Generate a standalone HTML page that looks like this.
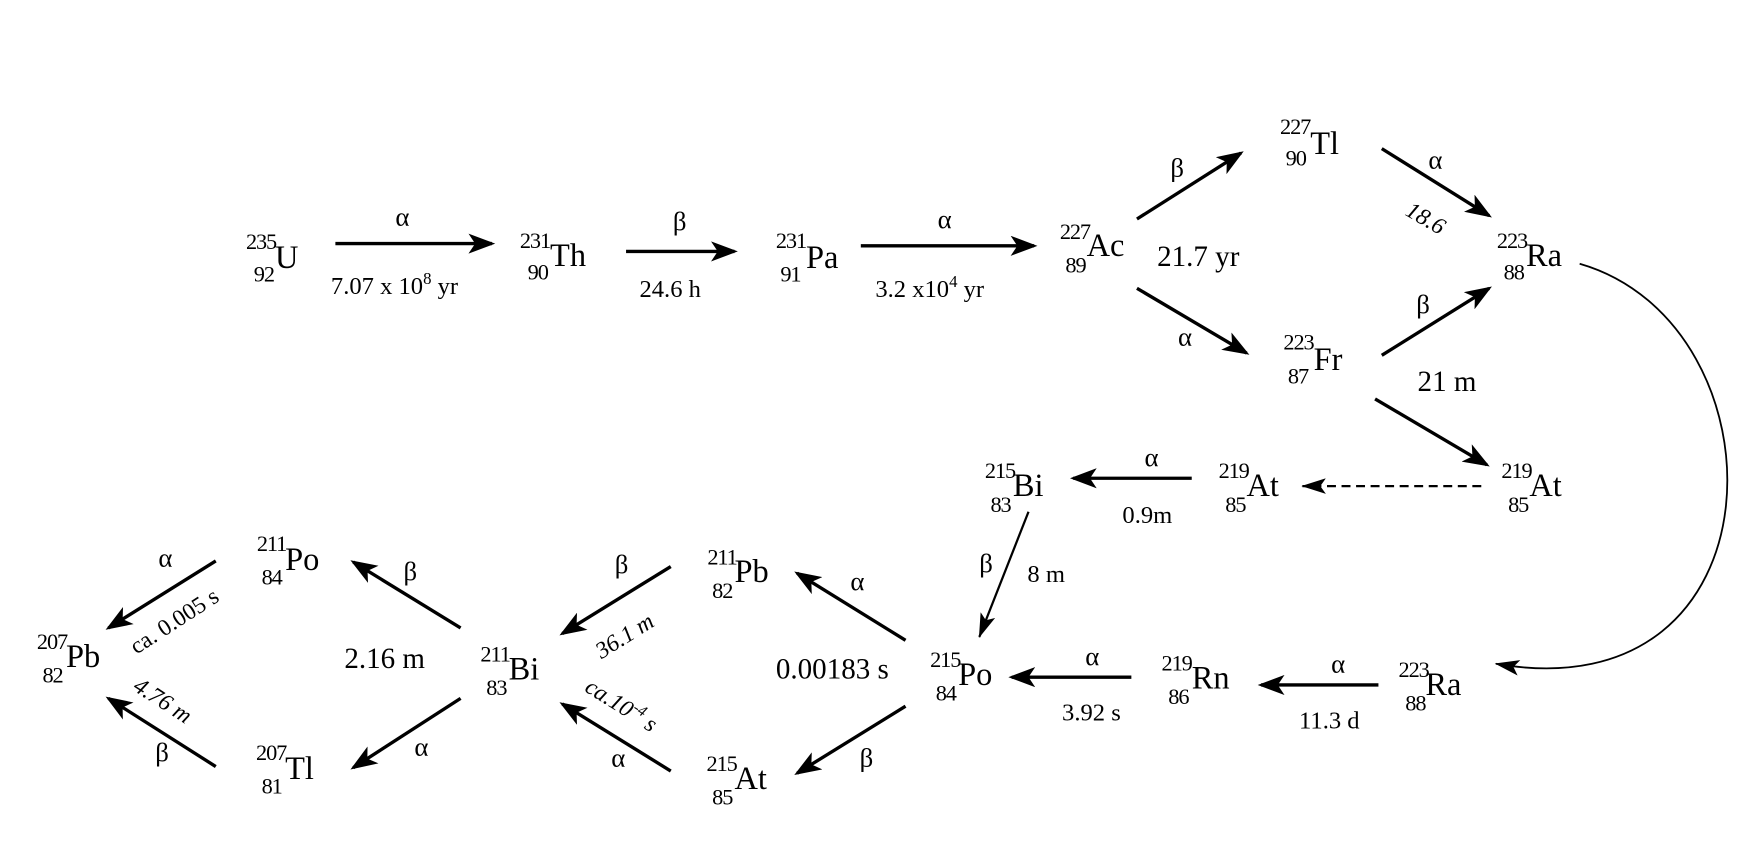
<!DOCTYPE html>
<html><head><meta charset="utf-8"><style>
html,body{margin:0;padding:0;background:#fff;}
svg{display:block;}
text{font-family:"Liberation Serif",serif;fill:#000;}
.s{font-size:29px;}
.m{font-size:20px;letter-spacing:-1px;}
.l{font-size:22px;}
.g{font-size:24px;}
.i{font-size:21px;font-style:italic;}
.n text.m{text-anchor:end;}
</style></head><body>
<svg width="1744" height="866" viewBox="0 0 1560 775" preserveAspectRatio="none" xmlns="http://www.w3.org/2000/svg">
<defs>
<marker id="a" markerWidth="8" markerHeight="6" refX="7" refY="3" orient="auto" markerUnits="strokeWidth">
<path d="M0,0 L8,3 L0,6 L2,3 z" fill="#000"/>
</marker>
<marker id="b" markerWidth="22" markerHeight="14" refX="21" refY="7" orient="auto" markerUnits="userSpaceOnUse">
<path d="M0,0 L22,7 L0,14 L5,7 z" fill="#000"/>
</marker>
</defs>
<g stroke="#000" stroke-width="3" fill="none" marker-end="url(#a)">
<line x1="300" y1="218" x2="440" y2="218"/>
<line x1="560" y1="225" x2="657" y2="225"/>
<line x1="770" y1="220" x2="925" y2="220"/>
<line x1="1017" y1="196" x2="1110" y2="137"/>
<line x1="1017" y1="258" x2="1115" y2="316"/>
<line x1="1236" y1="133" x2="1332" y2="193"/>
<line x1="1236" y1="318" x2="1332" y2="258"/>
<line x1="1230" y1="357" x2="1330" y2="416"/>
<line x1="1066" y1="428" x2="960" y2="428"/>
<line x1="1233" y1="613" x2="1128" y2="613"/>
<line x1="1012" y1="606" x2="905" y2="606"/>
<line x1="810" y1="573" x2="713" y2="513"/>
<line x1="810" y1="632" x2="713" y2="692"/>
<line x1="600" y1="507" x2="503" y2="567"/>
<line x1="600" y1="690" x2="503" y2="630"/>
<line x1="412" y1="562" x2="316" y2="503"/>
<line x1="412" y1="625" x2="316" y2="687"/>
<line x1="193" y1="502" x2="97" y2="562"/>
<line x1="193" y1="686" x2="97" y2="625"/>
</g>
<line x1="920" y1="458" x2="876" y2="570" stroke="#000" stroke-width="2" marker-end="url(#b)"/>
<line x1="1325" y1="435" x2="1165" y2="435" stroke="#000" stroke-width="2" stroke-dasharray="8,5" marker-end="url(#b)"/>
<path d="M1413,236 C1600,290 1600,640 1338,594" stroke="#000" stroke-width="1.6" fill="none" marker-end="url(#b)"/>

<g class="n">
<text class="m" x="247" y="223">235</text><text class="m" x="245" y="252">92</text><text class="s" x="246" y="240">U</text>
<text class="m" x="492" y="222">231</text><text class="m" x="490" y="250">90</text><text class="s" x="492" y="238">Th</text>
<text class="m" x="721" y="222">231</text><text class="m" x="716" y="252">91</text><text class="s" x="721" y="240">Pa</text>
<text class="m" x="975" y="214">227</text><text class="m" x="971" y="244">89</text><text class="s" x="972" y="229">Ac</text>
<text class="m" x="1172" y="120">227</text><text class="m" x="1168" y="148">90</text><text class="s" x="1172" y="138">Tl</text>
<text class="m" x="1366" y="222">223</text><text class="m" x="1363" y="250">88</text><text class="s" x="1365" y="238">Ra</text>
<text class="m" x="1175" y="313">223</text><text class="m" x="1170" y="343">87</text><text class="s" x="1175" y="331">Fr</text>
<text class="m" x="1370" y="428">219</text><text class="m" x="1367" y="458">85</text><text class="s" x="1368" y="444">At</text>
<text class="m" x="1117" y="428">219</text><text class="m" x="1114" y="458">85</text><text class="s" x="1115" y="444">At</text>
<text class="m" x="908" y="428">215</text><text class="m" x="904" y="458">83</text><text class="s" x="906" y="444">Bi</text>
<text class="m" x="859" y="597">215</text><text class="m" x="855" y="627">84</text><text class="s" x="857" y="613">Po</text>
<text class="m" x="1066" y="600">219</text><text class="m" x="1063" y="630">86</text><text class="s" x="1066" y="616">Rn</text>
<text class="m" x="1278" y="606">223</text><text class="m" x="1275" y="636">88</text><text class="s" x="1275" y="622">Ra</text>
<text class="m" x="659" y="505">211</text><text class="m" x="655" y="535">82</text><text class="s" x="657" y="521">Pb</text>
<text class="m" x="659" y="690">215</text><text class="m" x="655" y="720">85</text><text class="s" x="657" y="706">At</text>
<text class="m" x="456" y="592">211</text><text class="m" x="453" y="622">83</text><text class="s" x="455" y="608">Bi</text>
<text class="m" x="256" y="493">211</text><text class="m" x="252" y="523">84</text><text class="s" x="255" y="510">Po</text>
<text class="m" x="256" y="680">207</text><text class="m" x="252" y="710">81</text><text class="s" x="255" y="697">Tl</text>
<text class="m" x="60" y="581">207</text><text class="m" x="56" y="611">82</text><text class="s" x="59" y="597">Pb</text>
</g>

<g text-anchor="middle">
<text class="g" x="360" y="202">α</text>
<text class="g" x="608" y="206">β</text>
<text class="g" x="845" y="204">α</text>
<text class="g" x="1053" y="158">β</text>
<text class="g" x="1060" y="309">α</text>
<text class="g" x="1284" y="151">α</text>
<text class="g" x="1273" y="280">β</text>
<text class="g" x="1030" y="417">α</text>
<text class="g" x="882" y="512">β</text>
<text class="g" x="1197" y="602">α</text>
<text class="g" x="977" y="595">α</text>
<text class="g" x="767" y="528">α</text>
<text class="g" x="775" y="686">β</text>
<text class="g" x="556" y="513">β</text>
<text class="g" x="553" y="686">α</text>
<text class="g" x="367" y="519">β</text>
<text class="g" x="377" y="676">α</text>
<text class="g" x="148" y="507">α</text>
<text class="g" x="145" y="681">β</text>
</g>

<g>
<text class="l" x="296" y="263">7.07 x 10<tspan font-size="15" dy="-9">8</tspan><tspan dy="9"> yr</tspan></text>
<text class="l" x="572" y="266">24.6 h</text>
<text class="l" x="783" y="266">3.2 x10<tspan font-size="15" dy="-9">4</tspan><tspan dy="9"> yr</tspan></text>
<text class="s" x="1035" y="238" style="font-size:26px">21.7 yr</text>
<text class="s" x="1268" y="350" style="font-size:26px">21 m</text>
<text class="l" x="1004" y="468">0.9m</text>
<text class="l" x="919" y="521">8 m</text>
<text class="l" x="950" y="645">3.92 s</text>
<text class="l" x="1162" y="652">11.3 d</text>
<text class="s" x="694" y="607" style="font-size:26px">0.00183 s</text>
<text class="s" x="308" y="598" style="font-size:26px">2.16 m</text>
</g>
<text class="i" transform="translate(1256,192) rotate(30)">18.6</text>
<text class="i" transform="translate(538,590) rotate(-32)">36.1 m</text>
<text class="i" transform="translate(522,618) rotate(32)">ca.10<tspan font-size="14" dy="-8">-4</tspan><tspan dy="8"> s</tspan></text>
<text class="i" transform="translate(122,586) rotate(-33)" style="font-style:normal">ca. 0.005 s</text>
<text class="i" transform="translate(118,617) rotate(33)">4.76 m</text>
</svg>
</body></html>
